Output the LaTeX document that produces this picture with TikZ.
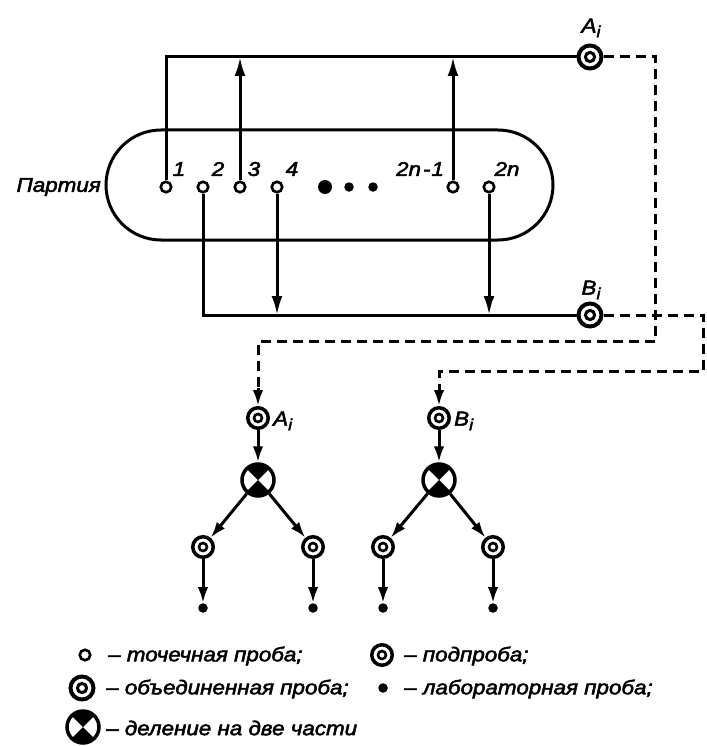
\documentclass[tikz,border=0pt]{standalone}
\usepackage{fontspec}
\setmainfont{Liberation Sans}[FakeStretch=1.12, FakeBold=2.5]
\usetikzlibrary{arrows.meta,calc}
\newcommand{\subidx}[2]{#1\raisebox{-0.45ex}{\fontsize{16}{16}\selectfont #2}}
\begin{document}
\begin{tikzpicture}[x=1pt,y=-1pt,
 lw/.style={line width=3pt},
 ptc/.style={circle, draw, line width=2.6pt, fill=white, minimum size=10.5pt, inner sep=0pt},
 subp/.style={circle, draw, line width=3.5pt, fill=white, minimum size=20.5pt, inner sep=0pt,
   path picture={\draw[black, line width=2.6pt] (path picture bounding box.center) circle[radius=4pt];}},
 comb/.style={circle, draw, line width=4pt, fill=white, minimum size=23pt, inner sep=0pt,
   path picture={\draw[black, line width=3pt] (path picture bounding box.center) circle[radius=4.6pt];}},
 divn/.style={circle, draw, line width=3.5pt, fill=white, minimum size=32pt, inner sep=0pt,
   path picture={
     \fill[black] (path picture bounding box.center) -- +(-30pt,30pt) -- +(30pt,30pt) -- cycle;
     \fill[black] (path picture bounding box.center) -- +(-30pt,-30pt) -- +(30pt,-30pt) -- cycle;}},
 labd/.style={circle, fill, minimum size=9.5pt, inner sep=0pt},
 arr/.style={line width=3pt, -{Latex[length=19pt,width=11pt]}},
 sarr/.style={line width=3pt, -{Latex[length=16pt,width=10.5pt]}},
 dsh/.style={line width=3pt, dash pattern=on 10pt off 6pt},
 txt/.style={font=\fontsize{20}{24}\selectfont\itshape, inner sep=0pt},
]
\useasboundingbox (0,0) rectangle (706,746);

% lot
\node[draw, line width=3pt, rounded corners=55pt, minimum width=447pt, minimum height=110pt, inner sep=0pt] (lot) at (329.5,185) {};
\node[txt, anchor=east] (partiya) at (101,187) {Партия};

% point samples
\node[ptc] (p1) at (166,187) {};
\node[ptc] (p2) at (203,187) {};
\node[ptc] (p3) at (240,187) {};
\node[ptc] (p4) at (277,187) {};
\node[ptc] (p5) at (453,187) {};
\node[ptc] (p6) at (489,187) {};
\node[circle, fill, minimum size=14pt, inner sep=0pt] (e1) at (325,187) {};
\node[labd] (e2) at (349,187) {};
\node[labd] (e3) at (373,187) {};

\node[txt] (l1) at (179,169) {1};
\node[txt] (l2) at (218,169) {2};
\node[txt] (l3) at (254,169) {3};
\node[txt] (l4) at (292,169) {4};
\node[txt] (l5) at (420,169) {2n\kern2pt-\kern1pt1};
\node[txt] (l6) at (507,169) {2n};

% combined samples
\node[comb] (A) at (590,57) {};
\node[comb] (B) at (590,315) {};
\node[txt] (Alab) at (591,28) {\subidx{A}{i}};
\node[txt] (Blab) at (591,290) {\subidx{B}{i}};

\draw[lw] (p1) |- (A);
\draw[arr] (p3) -- (p3 |- A);
\draw[arr] (p5) -- (p5 |- A);
\draw[lw] (p2) |- (B);
\draw[arr] (p4) -- (p4 |- B);
\draw[arr] (p6) -- (p6 |- B);

% lower trees
\node[subp] (A2) at (258,418) {};
\node[subp] (B2) at (439,418) {};
\node[txt, anchor=west] (A2lab) at (273,421) {\subidx{A}{i}};
\node[txt, anchor=west] (B2lab) at (454,421) {\subidx{B}{i}};

\coordinate (dA) at (655,341);
\coordinate (dB) at (703,371);
\draw[dsh] (A) -| (dA) -| ($(A2.north)+(0,-17)$);
\draw[sarr] ($(A2.north)+(0,-18)$) -- (A2);
\draw[dsh] (B) -| (dB) -| ($(B2.north)+(0,-17)$);
\draw[sarr] ($(B2.north)+(0,-18)$) -- (B2);

\node[divn] (DA) at (258,480) {};
\node[divn] (DB) at (439,480) {};
\draw[sarr] (A2) -- (DA);
\draw[sarr] (B2) -- (DB);

\node[subp] (a1) at (203,547) {};
\node[subp] (a2) at (313,547) {};
\node[subp] (b1) at (383,547) {};
\node[subp] (b2) at (493,547) {};
\draw[sarr] (DA) -- (a1);
\draw[sarr] (DA) -- (a2);
\draw[sarr] (DB) -- (b1);
\draw[sarr] (DB) -- (b2);

\node[labd] (la1) at (203,608) {};
\node[labd] (la2) at (313,608) {};
\node[labd] (lb1) at (383,608) {};
\node[labd] (lb2) at (493,608) {};
\draw[sarr] (a1) -- (la1);
\draw[sarr] (a2) -- (la2);
\draw[sarr] (b1) -- (lb1);
\draw[sarr] (b2) -- (lb2);

% legend
\node[ptc] (g1) at (85,655) {};
\node[txt, anchor=west] (g1t) at (108,656) {– точечная проба;};
\node[subp] (g2) at (382,655) {};
\node[txt, anchor=west] (g2t) at (404,656) {– подпроба;};
\node[comb] (g3) at (82,688) {};
\node[txt, anchor=west] (g3t) at (106,689) {– объединенная проба;};
\node[labd] (g4) at (383,688) {};
\node[txt, anchor=west] (g4t) at (404,689) {– лабораторная проба;};
\node[divn] (g5) at (83,727) {};
\node[txt, anchor=west] (g5t) at (106,728) {– деление на две части};
\end{tikzpicture}
\end{document}
